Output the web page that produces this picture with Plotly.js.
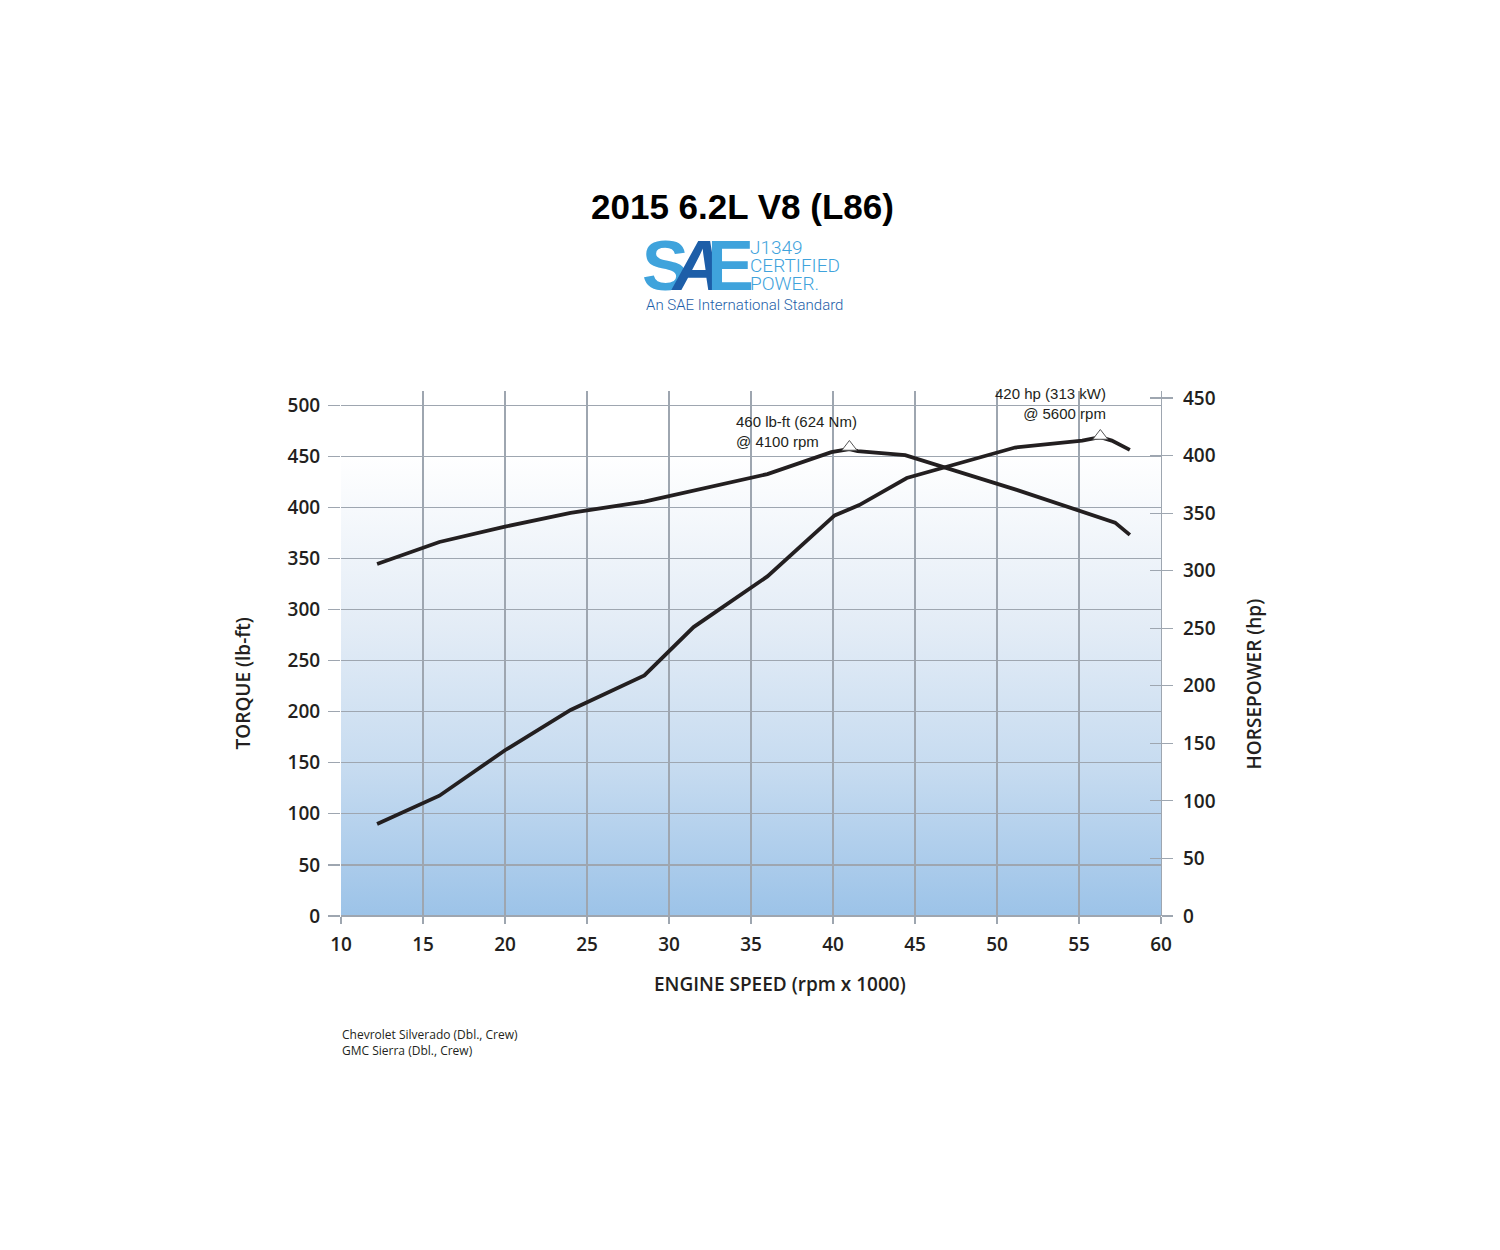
<!DOCTYPE html>
<html>
<head>
<meta charset="utf-8">
<script src="https://cdn.plot.ly/plotly-3.0.1.min.js"></script>
<style>html,body{margin:0;padding:0;background:#fff;}#chart{width:1500px;height:1250px;}</style>
</head>
<body>
<div id="chart"></div>
<script>
// Engine speed (chart's x scale) for each curve
var rpmTorque = [12.2, 16, 20, 24, 28.5, 36, 39.9, 41, 41.5, 44.4, 51.2, 55.1, 57.2, 58.1];
var torque    = [344.5, 366, 381, 394.5, 405.5, 432.5, 454, 457, 455, 451, 417, 396.5, 385, 373];

var rpmHp = [12.2, 16, 20, 24, 28.5, 31.5, 36, 40.1, 41.6, 44.5, 51.1, 55.2, 55.9, 56.3, 57.0, 58.1];
var hp    = [80, 104.5, 144, 179, 209, 251, 295, 348, 357, 380.5, 407, 413, 415, 416, 413, 405];

// Peak markers
var peakTorqueX = [41];
var peakTorqueY = [459];
var peakHpX = [56.3];
var peakHpY = [417];

var xTicks = [10, 15, 20, 25, 30, 35, 40, 45, 50, 55, 60];
var torqueTicks = [0, 50, 100, 150, 200, 250, 300, 350, 400, 450, 500];
var hpTicks = [0, 50, 100, 150, 200, 250, 300, 350, 400, 450];

var titleText = "2015 6.2L V8 (L86)";
var xTitle = "ENGINE SPEED (rpm x 1000)";
var yTitle = "TORQUE (lb-ft)";
var y2Title = "HORSEPOWER (hp)";
var logoLines = ["J1349", "CERTIFIED", "POWER."];
var logoTag = "An SAE International Standard";
var torqueNote = "460 lb-ft (624 Nm)<br>@ 4100 rpm";
var hpNote = "420 hp (313 kW)<br>@ 5600 rpm";
var footNote = "Chevrolet Silverado (Dbl., Crew)<br>GMC Sierra (Dbl., Crew)";

var GRID = "#9ea6b0";
var INK = "#231f20";
var LIGHTBLUE = "#3fa3dc";
var DARKBLUE = "#1d5ea8";
var tickFont = {family: "Open Sans", size: 19, color: INK, weight: 600};
var axTitleFont = {family: "Open Sans", size: 19, color: INK, weight: 600};

var grad = '<svg xmlns="http://www.w3.org/2000/svg" width="100" height="100" preserveAspectRatio="none">' +
  '<defs><linearGradient id="g" x1="0" y1="0" x2="0" y2="1">' +
  '<stop offset="0" stop-color="#ffffff"/>' +
  '<stop offset="0.12" stop-color="#ffffff"/>' +
  '<stop offset="0.45" stop-color="#e3ecf6"/>' +
  '<stop offset="0.72" stop-color="#c6dbf0"/>' +
  '<stop offset="1" stop-color="#9cc3e8"/>' +
  '</linearGradient></defs><rect width="100" height="100" fill="url(#g)"/></svg>';
var gradUri = "data:image/svg+xml;charset=utf-8," + encodeURIComponent(grad);

var traces = [
  {x: rpmTorque, y: torque, type: "scatter", mode: "lines", yaxis: "y",
   line: {color: INK, width: 3.8}, hoverinfo: "skip"},
  {x: rpmHp, y: hp, type: "scatter", mode: "lines", yaxis: "y2",
   line: {color: INK, width: 3.8}, hoverinfo: "skip"},
  {x: [], y: [], type: "scatter", yaxis: "y3", hoverinfo: "skip"},
  {x: peakTorqueX, y: peakTorqueY, type: "scatter", mode: "markers", yaxis: "y",
   marker: {symbol: "triangle-up", size: 13, color: "#ffffff", line: {color: "#555", width: 1}}},
  {x: peakHpX, y: peakHpY, type: "scatter", mode: "markers", yaxis: "y2",
   marker: {symbol: "triangle-up", size: 13, color: "#ffffff", line: {color: "#555", width: 1}}}
];

function note(text, x, y, xanchor, align, font, extra) {
  var a = {text: text, xref: "paper", yref: "paper", x: x, y: y, xanchor: xanchor, yanchor: "middle",
           align: align, showarrow: false, font: font, borderpad: 0};
  if (extra) { for (var k in extra) a[k] = extra[k]; }
  return a;
}

var saeText = "<b><span style='letter-spacing:-16px'>" +
  "<span style='color:" + LIGHTBLUE + "'>S</span>" +
  "<i><span style='color:" + DARKBLUE + "'>A</span></i>" +
  "<span style='color:" + LIGHTBLUE + "'>E</span></span></b>";

var logoText = logoLines.map(function (s) {
  return "<span style='font-size:19px'>" + s + "</span>";
}).join("<br>");

var layout = {
  width: 1500, height: 1250,
  margin: {l: 341, r: 339, t: 391, b: 334},
  paper_bgcolor: "#ffffff",
  plot_bgcolor: "rgba(0,0,0,0)",
  showlegend: false,
  xaxis: {
    range: [10, 60], tickvals: xTicks, showgrid: true, gridcolor: GRID, gridwidth: 1.2,
    ticks: "outside", ticklen: 7, tickcolor: GRID, tickwidth: 1.2,
    zeroline: false, showline: false, tickfont: tickFont, ticklabelstandoff: 4
  },
  yaxis: {
    range: [0, 513.8], tickvals: torqueTicks, showgrid: true, gridcolor: GRID, gridwidth: 1.2,
    ticks: "outside", ticklen: 12, tickcolor: GRID, tickwidth: 1.2,
    zeroline: true, zerolinecolor: GRID, zerolinewidth: 1.2, showline: false,
    tickfont: tickFont, ticklabelstandoff: 4
  },
  yaxis2: {
    range: [0, 456.1], tickvals: hpTicks, overlaying: "y", side: "right", anchor: "x",
    showgrid: false, zeroline: false, showline: true, linecolor: GRID, linewidth: 1.2,
    ticks: "outside", ticklen: 11, tickcolor: GRID, tickwidth: 1.2,
    tickfont: tickFont, ticklabelstandoff: 6
  },
  yaxis3: {
    range: [0, 456.1], tickvals: hpTicks, overlaying: "y", side: "right", anchor: "x",
    showgrid: false, zeroline: false, showline: false, showticklabels: false,
    ticks: "inside", ticklen: 11, tickcolor: GRID, tickwidth: 1.2
  },
  images: [{
    source: gradUri, xref: "paper", yref: "paper", x: 0, y: 1, sizex: 1, sizey: 1,
    xanchor: "left", yanchor: "top", sizing: "stretch", layer: "below"
  }],
  annotations: [
    note("<b>" + titleText + "</b>", 0.4896, 1.352, "center", "center",
         {family: "Liberation Sans, Arial", size: 35, color: "#000"}),
    // SAE logo
    note(saeText, 0.3659, 1.238, "left", "left",
         {family: "Liberation Sans, Arial", size: 70, color: LIGHTBLUE}),
    note(logoText, 0.4975, 1.240, "left", "left",
         {family: "Roboto", size: 14, color: LIGHTBLUE, weight: 300}),
    note(logoTag, 0.371, 1.1638, "left", "left",
         {family: "Roboto", size: 15, color: DARKBLUE, weight: 300}),
    // Axis titles
    note(xTitle, 0.5354, -0.1295, "center", "center", axTitleFont),
    note(yTitle, -0.1195, 0.443, "center", "center", axTitleFont, {textangle: -90}),
    note(y2Title, 1.1134, 0.443, "center", "center", axTitleFont, {textangle: -90}),
    // Peak notes
    {text: torqueNote, xref: "x", yref: "paper", x: 34.0, y: 0.923, xanchor: "left", yanchor: "middle",
     align: "left", showarrow: false, borderpad: 0, font: {family: "Liberation Sans, Arial", size: 15, color: INK}},
    {text: hpNote, xref: "x", yref: "paper", x: 56.7, y: 0.976, xanchor: "right", yanchor: "middle",
     align: "right", showarrow: false, borderpad: 0, font: {family: "Liberation Sans, Arial", size: 15, color: INK}},
    // Footnote
    note(footNote, 0.0, -0.241, "left", "left", {family: "Open Sans", size: 12, color: INK})
  ]
};

Plotly.newPlot("chart", traces, layout, {displayModeBar: false, staticPlot: true});
</script>
</body>
</html>
